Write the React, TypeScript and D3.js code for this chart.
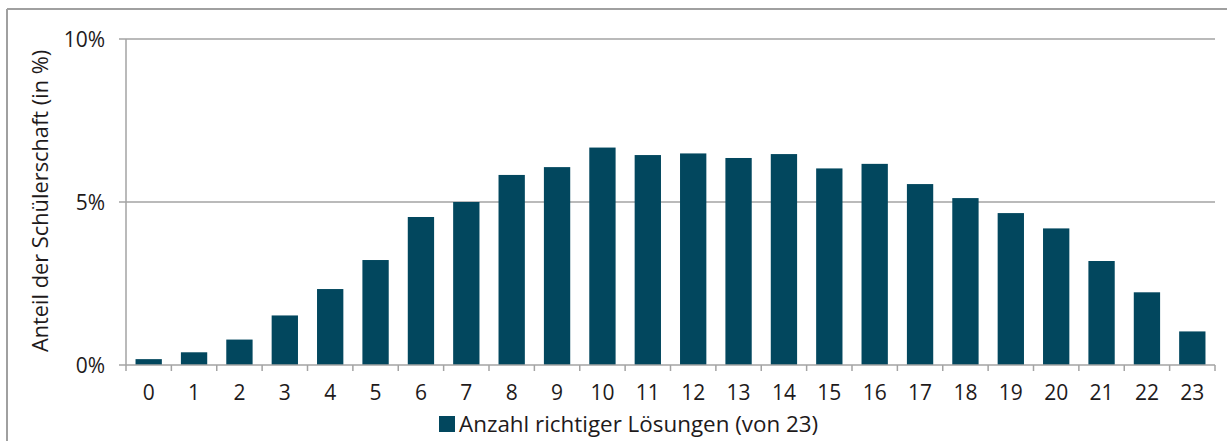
import React from "react";
import * as d3 from "d3";

const categories: string[] = ["0","1","2","3","4","5","6","7","8","9","10","11","12","13","14","15","16","17","18","19","20","21","22","23"];
const shares: number[] = [0.18,0.39,0.78,1.52,2.33,3.22,4.54,5.0,5.83,6.07,6.67,6.44,6.49,6.35,6.47,6.03,6.17,5.55,5.12,4.66,4.19,3.19,2.23,1.03];
const yTicks: number[] = [0, 5, 10];
const seriesName = "Anzahl richtiger Lösungen (von 23)";
const yTitle = "Anteil der Schülerschaft (in %)";

const W = 1227, H = 441;
const left = 126, right = 1215, top = 39, bottom = 365;
const barColor = "#02475e";
const gridColor = "#a3a3a3";
const textColor = "#1e1a1b";
const font = "'Open Sans', 'Noto Sans', sans-serif";

export default function App() {
  const x = d3.scaleBand<string>().domain(categories).range([left, right]).paddingInner(0.42).paddingOuter(0.21);
  const xb = d3.scaleBand<string>().domain(categories).range([left, right]);
  const y = d3.scaleLinear().domain([0, 10]).range([bottom, top]);

  return (
    <svg width={W} height={H} style={{ position: "absolute", left: 0, top: 0, background: "#fff" }} fontFamily={font}>
      <rect x={0} y={0} width={W} height={H} fill="#fff" />
      <line x1={7} y1={9} x2={W} y2={9} stroke="#a0a0a0" strokeWidth={2} />
      <line x1={7} y1={9} x2={7} y2={H} stroke="#a0a0a0" strokeWidth={2} />
      {yTicks.filter(t => t > 0).map(t => (
        <line key={"g" + t} x1={left} x2={right} y1={y(t)} y2={y(t)} stroke={gridColor} strokeWidth={1.5} />
      ))}
      {categories.map((c, i) => (
        <rect key={c} x={x(c)} y={y(shares[i])} width={x.bandwidth()} height={bottom - y(shares[i])} fill={barColor} />
      ))}
      <line x1={left} x2={left} y1={top} y2={bottom} stroke={gridColor} strokeWidth={1.5} />
      <line x1={left} x2={right} y1={bottom} y2={bottom} stroke={gridColor} strokeWidth={1.5} />
      {yTicks.map(t => (
        <g key={"t" + t}>
          <line x1={left - 7} x2={left} y1={y(t)} y2={y(t)} stroke={gridColor} strokeWidth={1.5} />
          <text x={105} y={y(t) + 8} textAnchor="end" fontSize={21} fill={textColor}>{t + "%"}</text>
        </g>
      ))}
      {categories.map(c => (
        <line key={"xt" + c} x1={xb(c)!} x2={xb(c)!} y1={bottom} y2={bottom + 6} stroke={gridColor} strokeWidth={1.5} />
      ))}
      <line x1={right} x2={right} y1={bottom} y2={bottom + 6} stroke={gridColor} strokeWidth={1.5} />
      {categories.map(c => (
        <text key={"xl" + c} x={xb(c)! + xb.bandwidth() / 2} y={400} textAnchor="middle" fontSize={21} fill={textColor}>{c}</text>
      ))}
      <text transform={`translate(48,201) rotate(-90)`} textAnchor="middle" fontSize={21.8} fill={textColor}>{yTitle}</text>
      <g>
        <rect x={439} y={416} width={16} height={16} fill={barColor} />
        <text x={459} y={432} fontSize={22.4} fill={textColor}>{seriesName}</text>
      </g>
    </svg>
  );
}
